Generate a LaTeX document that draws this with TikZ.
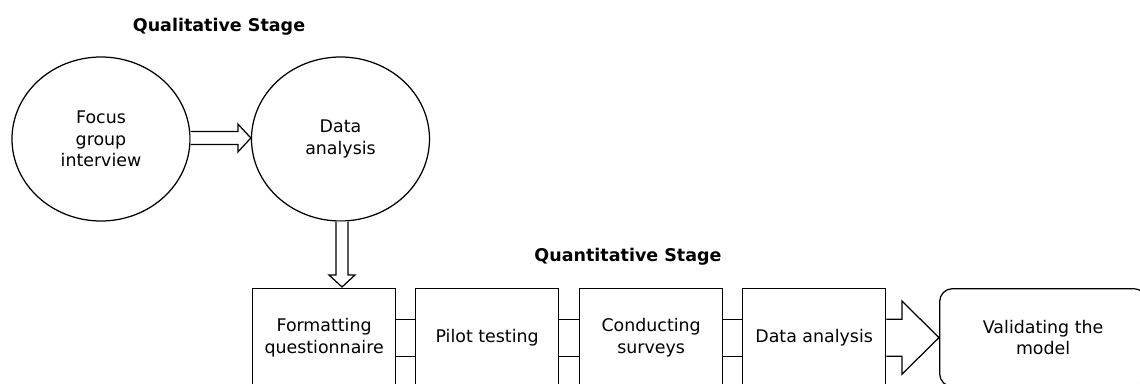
\documentclass[tikz,border=0pt]{standalone}
\usepackage{fontspec}
\setmainfont{DejaVu Sans}
\usetikzlibrary{shapes.geometric,calc}
\begin{document}
\begin{tikzpicture}[x=1pt,y=-1pt,
  lw/.style={line width=1.25pt},
  txt/.style={font=\fontsize{17.4}{21.5}\selectfont, align=center},
  title/.style={font=\fontsize{17.5}{21}\selectfont\bfseries},
  bubble/.style={lw, draw, ellipse, minimum width=178pt, minimum height=164pt, inner sep=0pt, txt},
  stepbox/.style={lw, draw, rectangle, minimum width=143pt, minimum height=98pt, inner sep=0pt, anchor=north west, txt},
  endbox/.style={lw, draw, rectangle, rounded corners=13pt, minimum width=207pt, minimum height=98pt, inner sep=0pt, anchor=north west, txt},
  hollow/.style={lw, draw, fill=white, line join=miter}
]
\clip (0,0) rectangle (1140,383);

% titles
\node[title] (qual) at (219,27) {Qualitative Stage};
\node[title] (quant) at (628,257) {Quantitative Stage};

% qualitative stage
\node[bubble] (focus) at (101,139) {Focus\\group\\interview};
\node[bubble] (qdata) at (340.5,139) {Data\\analysis};

% quantitative stage
\node[stepbox] (format) at (252,288) {Formatting\\questionnaire};
\node[stepbox] (pilot)  at (415,288) {Pilot testing};
\node[stepbox] (survey) at (579,288) {Conducting\\surveys};
\node[stepbox] (adata)  at (742,288) {Data analysis};
\node[endbox]  (valid)  at (939,288) {Validating the\\model};

% hollow arrow: focus group -> data analysis
\coordinate (h0) at ($(focus.east)+(0,-1)$);
\coordinate (h1) at ($(qdata.west)+(0,-1)$);
\draw[hollow] ($(h0)+(0,-6.5)$) -- ($(h1)+(-13,-6.5)$) -- ($(h1)+(-13,-14)$) -- (h1)
  -- ($(h1)+(-13,14)$) -- ($(h1)+(-13,6.5)$) -- ($(h0)+(0,6.5)$);

% hollow arrow: data analysis -> formatting questionnaire
\coordinate (v0) at ($(qdata.south)+(1.5,0)$);
\coordinate (v1) at (v0 |- format.north);
\draw[hollow] ($(v0)+(-6,0)$) -- ($(v1)+(-6,-13)$) -- ($(v1)+(-13,-13)$) -- ($(v1)+(0,-1)$)
  -- ($(v1)+(13,-13)$) -- ($(v1)+(6,-13)$) -- ($(v0)+(6,0)$);

% open double connectors between the steps
\foreach \a/\b in {format/pilot, pilot/survey, survey/adata}{
  \draw[lw] ($(\a.east)+(0,-18.5)$) -- ($(\b.west)+(0,-18.5)$);
  \draw[lw] ($(\a.east)+(0,18.5)$) -- ($(\b.west)+(0,18.5)$);
}

% large hollow arrow into the final step
\draw[hollow] ($(adata.east)+(0,-18.5)$) -- ($(valid.west)+(-37,-18.5)$) -- ($(valid.west)+(-37,-36.5)$)
  -- (valid.west) -- ($(valid.west)+(-37,36.5)$) -- ($(valid.west)+(-37,18.5)$) -- ($(adata.east)+(0,18.5)$);
\end{tikzpicture}
\end{document}
